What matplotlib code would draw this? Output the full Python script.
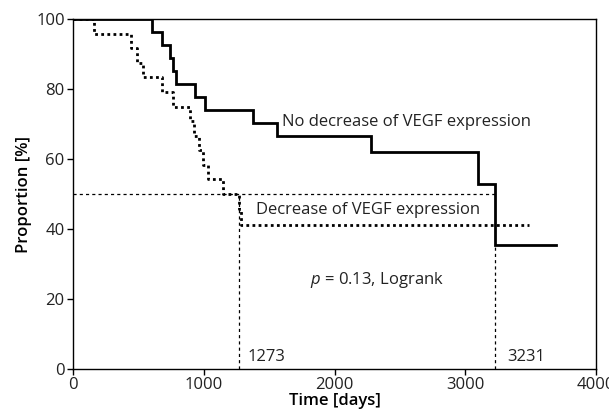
import matplotlib
matplotlib.use("Agg")
import matplotlib.pyplot as plt

plt.rcParams['font.family'] = ['Open Sans', 'DejaVu Sans']
plt.rcParams['mathtext.fontset'] = 'custom'
plt.rcParams['mathtext.it'] = 'Open Sans:italic'
plt.rcParams['mathtext.rm'] = 'Open Sans'

# No decrease of VEGF expression (solid)
t_no = [0, 605, 677, 745, 765, 790, 931, 1008, 1376, 1560, 2280, 3101, 3231, 3692]
s_no = [100, 96.3, 92.6, 88.9, 85.2, 81.5, 77.8, 74.1, 70.3, 66.7, 62.0, 52.9, 35.3, 35.3]

# Decrease of VEGF expression (dotted)
t_de = [0, 163, 440, 490, 537, 677, 766, 893, 925, 960, 995, 1030, 1147, 1273, 1285, 3489]
s_de = [100, 95.8, 91.7, 87.5, 83.3, 79.2, 75.0, 70.8, 66.7, 62.5, 58.3, 54.2, 50.0, 45.8, 41.0, 41.0]

median_de = 1273
median_no = 3231
median_no_y = 35.3

xticks = [0, 1000, 2000, 3000, 4000]
yticks = [0, 20, 40, 60, 80, 100]

fig = plt.figure(figsize=(6.09, 4.16), dpi=100)
ax = fig.add_axes([0.1199, 0.113, 0.8588, 0.8413])

ax.step(t_no, s_no, where='post', color='black', lw=2.0, solid_joinstyle='miter')
ax.step(t_de, s_de, where='post', color='black', lw=2.0, linestyle=(0, (1, 1.2)))

# median reference lines
ax.plot([0, median_no], [50, 50], color='black', lw=0.9, linestyle=(0, (2.5, 2.5)))
ax.plot([median_de, median_de], [0, 50], color='black', lw=0.9, linestyle=(0, (2.5, 2.5)))
ax.plot([median_no, median_no], [0, median_no_y], color='black', lw=0.9, linestyle=(0, (2.5, 2.5)))

fs = 12
tc = '#222222'
ax.text(1595, 70.6, 'No decrease of VEGF expression', fontsize=fs, va='center', ha='left', color=tc)
ax.text(1402, 45.5, 'Decrease of VEGF expression', fontsize=fs, va='center', ha='left', color=tc)
ax.text(1809, 25.3, r'$p$ = 0.13, Logrank', fontsize=fs, va='center', ha='left', color=tc)
ax.text(1336, 3.4, str(median_de), fontsize=fs, va='center', ha='left', color=tc)
ax.text(3321, 3.4, str(median_no), fontsize=fs, va='center', ha='left', color=tc)

ax.set_xlim(0, 4000)
ax.set_ylim(0, 100)
ax.set_xticks(xticks)
ax.set_yticks(yticks)
ax.tick_params(direction='out', length=4, width=1, labelsize=fs, colors='black', labelcolor=tc, pad=2)
for sp in ax.spines.values():
    sp.set_linewidth(1.0)
    sp.set_color('black')

ax.set_xlabel('Time [days]', fontsize=fs, fontweight='semibold', labelpad=0)
ax.set_ylabel('Proportion [%]', fontsize=fs, fontweight='semibold', labelpad=3)

fig.savefig('out.png', dpi=100)
